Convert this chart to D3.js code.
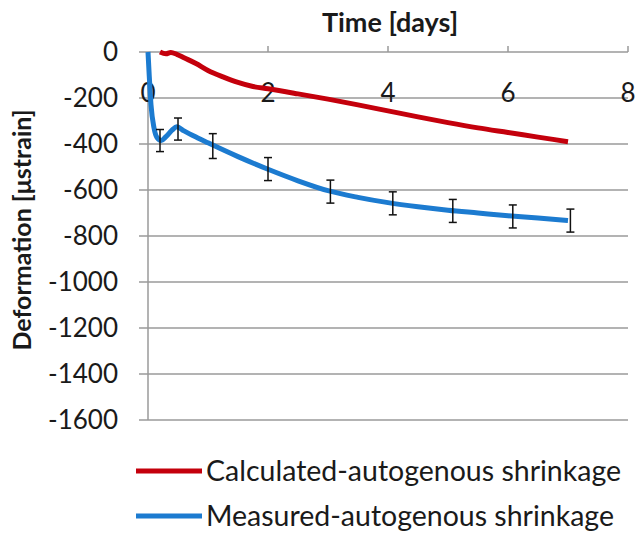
<!DOCTYPE html>
<html>
<head>
<meta charset="utf-8">
<script src="https://cdn.jsdelivr.net/npm/d3@7"></script>
<style>
  body { margin: 0; background: #fff; }
  svg text { font-family: Lato, "Open Sans", sans-serif; fill: #1a1a1a; }
</style>
</head>
<body>
<div id="chart"></div>
<script>
// Calculated autogenous shrinkage [days, µstrain]
const calcTime = [0.2, 0.3, 0.38, 0.48, 0.6, 0.8, 1.0, 1.25, 1.5, 1.75, 2.0, 2.5, 3.0, 3.5, 4.0, 4.5, 5.0, 5.5, 6.0, 6.5, 7.0];
const calcDef  = [0, -8, -2, -10, -25, -50, -80, -108, -132, -150, -160, -182, -205, -230, -256, -282, -307, -330, -350, -370, -390];

// Measured autogenous shrinkage
const measTime = [0, 0.02, 0.05, 0.1, 0.15, 0.22, 0.3, 0.4, 0.48, 0.6, 0.8, 1.0, 1.5, 2.0, 2.5, 3.0, 3.5, 4.0, 4.5, 5.0, 5.5, 6.0, 6.5, 7.0];
const measDef  = [0, -100, -230, -330, -372, -385, -368, -340, -325, -343, -370, -395, -455, -510, -560, -603, -632, -655, -673, -688, -700, -712, -722, -733];

// error bars on measured series
const errTime = [0.2, 0.5, 1.08, 2.0, 3.04, 4.08, 5.08, 6.08, 7.04];
const errMean = [-385, -335, -409, -509, -607, -658, -691, -715, -733];
const errHalf = [48, 48, 54, 50, 50, 50, 50, 50, 50];

const xTicks = [0, 2, 4, 6, 8];
const yTicks = [0, -200, -400, -600, -800, -1000, -1200, -1400, -1600];

const W = 635, H = 537;
const svg = d3.select("#chart").append("svg")
    .attr("width", W).attr("height", H);

const x = d3.scaleLinear().domain([0, 8]).range([148, 628]);
const y = d3.scaleLinear().domain([-1600, 0]).range([420, 52]);

// gridlines + y ticks
svg.append("g").selectAll("line")
    .data(yTicks).join("line")
    .attr("x1", x(0) - 9).attr("x2", x(8))
    .attr("y1", d => y(d)).attr("y2", d => y(d))
    .attr("stroke", "#9a9a9a").attr("stroke-width", 1.5);

svg.append("line")
    .attr("x1", x(0)).attr("x2", x(0))
    .attr("y1", y(0)).attr("y2", y(-1600))
    .attr("stroke", "#9a9a9a").attr("stroke-width", 1.5);

// x tick marks sit above the zero line
svg.append("g").selectAll("line")
    .data(xTicks.slice(1)).join("line")
    .attr("x1", d => x(d)).attr("x2", d => x(d))
    .attr("y1", y(0) - 6).attr("y2", y(0))
    .attr("stroke", "#9a9a9a").attr("stroke-width", 1.5);

svg.append("g").selectAll("text")
    .data(yTicks).join("text")
    .attr("x", 118).attr("y", d => y(d))
    .attr("dy", "0.36em")
    .attr("text-anchor", "end")
    .style("font-size", "26px")
    .text(d => d < 0 ? "-" + Math.abs(d) : d);

svg.append("g").selectAll("text")
    .data(xTicks).join("text")
    .attr("x", d => x(d)).attr("y", 102)
    .attr("text-anchor", "middle")
    .style("font-size", "26px")
    .text(d => d);

// titles
svg.append("text")
    .attr("x", 390).attr("y", 32)
    .attr("text-anchor", "middle")
    .style("font-size", "27px").style("font-weight", "bold")
    .text("Time [days]");

svg.append("text")
    .attr("transform", "translate(31, 230) rotate(-90)")
    .attr("text-anchor", "middle")
    .style("font-size", "25px").style("font-weight", "bold")
    .text("Deformation [μstrain]");

const line = d3.line()
    .x(d => x(d[0])).y(d => y(d[1]))
    .curve(d3.curveMonotoneX);

svg.append("path")
    .datum(calcTime.map((t, i) => [t, calcDef[i]]))
    .attr("d", line)
    .attr("fill", "none").attr("stroke", "#c4000c")
    .attr("stroke-width", 5).attr("stroke-linejoin", "round");

svg.append("path")
    .datum(measTime.map((t, i) => [t, measDef[i]]))
    .attr("d", line)
    .attr("fill", "none").attr("stroke", "#1c7bd0")
    .attr("stroke-width", 5).attr("stroke-linejoin", "round");

// error bars
const eb = svg.append("g").selectAll("g")
    .data(errTime.map((t, i) => ({ t, m: errMean[i], e: errHalf[i] })))
    .join("g")
    .attr("stroke", "#111").attr("stroke-width", 1.5);
eb.append("line")
    .attr("x1", d => x(d.t)).attr("x2", d => x(d.t))
    .attr("y1", d => y(d.m + d.e)).attr("y2", d => y(d.m - d.e));
eb.append("line")
    .attr("x1", d => x(d.t) - 4).attr("x2", d => x(d.t) + 4)
    .attr("y1", d => y(d.m + d.e)).attr("y2", d => y(d.m + d.e));
eb.append("line")
    .attr("x1", d => x(d.t) - 4).attr("x2", d => x(d.t) + 4)
    .attr("y1", d => y(d.m - d.e)).attr("y2", d => y(d.m - d.e));

// legend
const legend = [
    { name: "Calculated-autogenous shrinkage", color: "#c4000c", y: 471 },
    { name: "Measured-autogenous shrinkage", color: "#1c7bd0", y: 516 }
];
const lg = svg.append("g").selectAll("g").data(legend).join("g");
lg.append("line")
    .attr("x1", 136).attr("x2", 202)
    .attr("y1", d => d.y).attr("y2", d => d.y)
    .attr("stroke", d => d.color).attr("stroke-width", 5);
lg.append("text")
    .attr("x", 206).attr("y", d => d.y)
    .attr("dy", "0.36em")
    .style("font-size", "28.5px")
    .text(d => d.name);
</script>
</body>
</html>
